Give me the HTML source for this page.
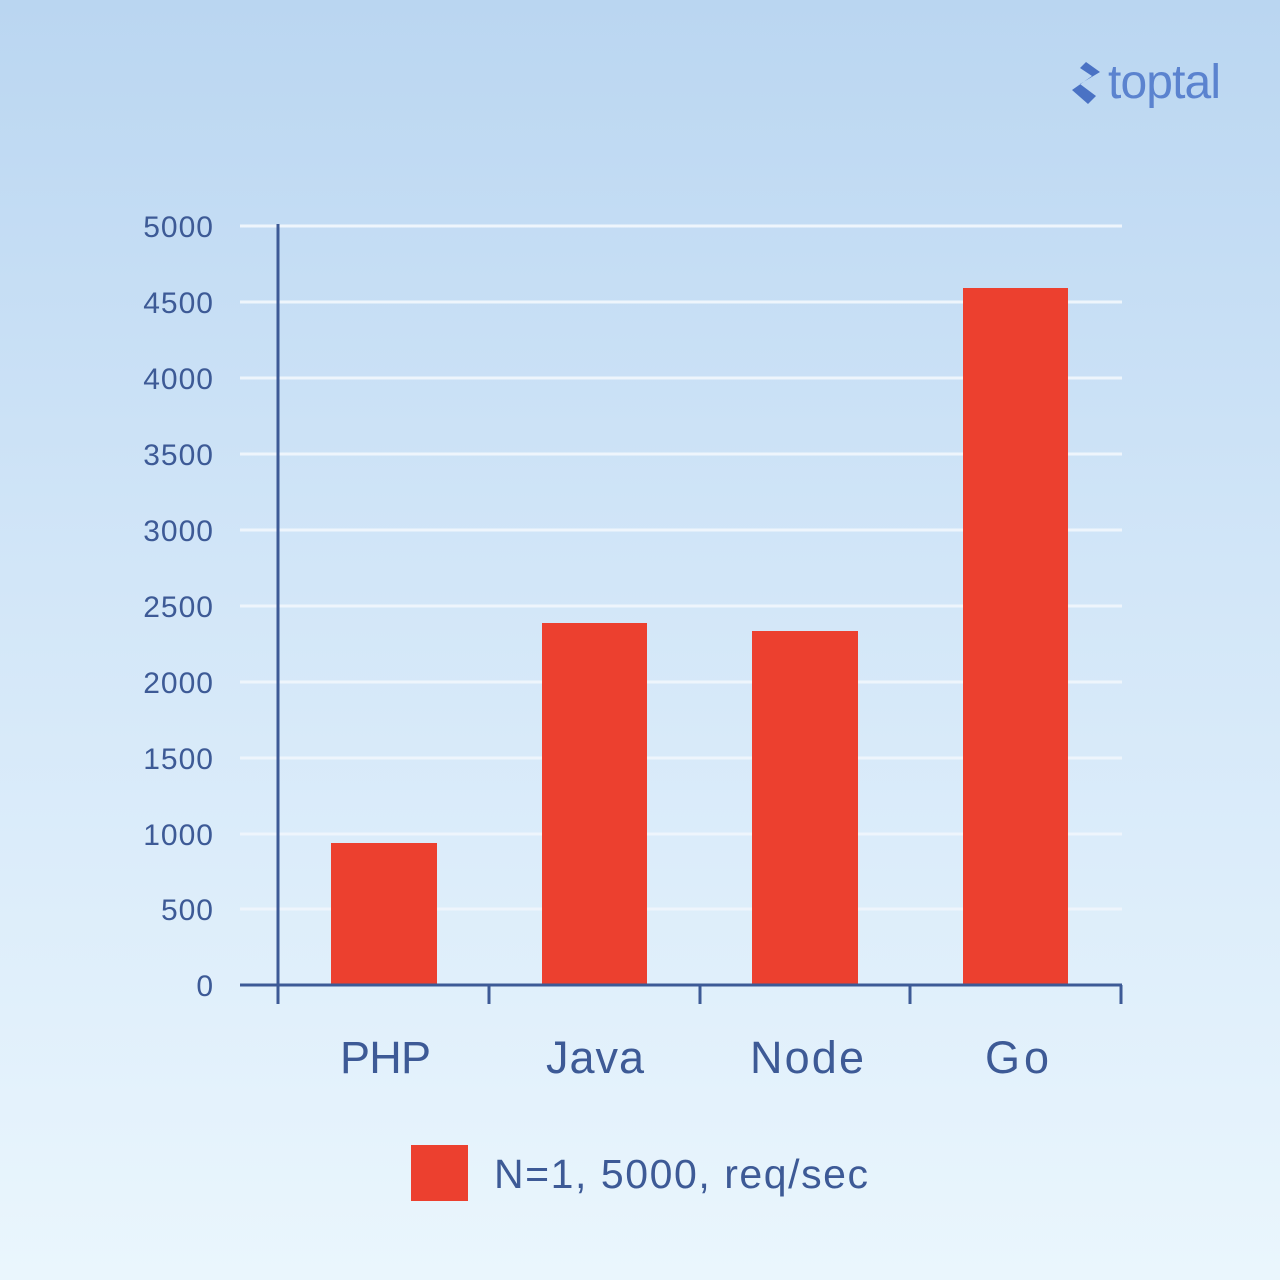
<!DOCTYPE html>
<html><head><meta charset="utf-8"><style>
html,body{margin:0;padding:0}
body{width:1280px;height:1280px;background:linear-gradient(180deg,#bad6f1 0%,#d2e6f8 45%,#eaf6fd 100%);font-family:"Liberation Sans",sans-serif;overflow:hidden}
</style></head><body>
<svg width="1280" height="1280" xmlns="http://www.w3.org/2000/svg" style="position:absolute;left:0;top:0">
<g stroke="#eef5fc" stroke-width="3">
<line x1="240" y1="226" x2="1122" y2="226"/><line x1="240" y1="302" x2="1122" y2="302"/>
<line x1="240" y1="378" x2="1122" y2="378"/><line x1="240" y1="454" x2="1122" y2="454"/>
<line x1="240" y1="530" x2="1122" y2="530"/><line x1="240" y1="606" x2="1122" y2="606"/>
<line x1="240" y1="682" x2="1122" y2="682"/><line x1="240" y1="758" x2="1122" y2="758"/>
<line x1="240" y1="834" x2="1122" y2="834"/><line x1="240" y1="909" x2="1122" y2="909"/>
</g>
<g fill="#ec402f">
<rect x="331" y="843" width="106" height="142"/>
<rect x="542" y="623" width="105" height="362"/>
<rect x="752" y="631" width="106" height="354"/>
<rect x="963" y="288" width="105" height="697"/>
</g>
<g stroke="#3d5a96" stroke-width="3" fill="none">
<line x1="278" y1="224" x2="278" y2="1004"/>
<line x1="240" y1="985" x2="1122" y2="985"/>
<line x1="489" y1="985" x2="489" y2="1004"/><line x1="700" y1="985" x2="700" y2="1004"/>
<line x1="910" y1="985" x2="910" y2="1004"/><line x1="1121" y1="985" x2="1121" y2="1004"/>
</g>
<g fill="#3d5a96" font-family="Liberation Sans, sans-serif" font-size="30" text-anchor="end" letter-spacing="1">
<text x="214" y="237">5000</text><text x="214" y="313">4500</text><text x="214" y="389">4000</text>
<text x="214" y="465">3500</text><text x="214" y="541">3000</text><text x="214" y="617">2500</text>
<text x="214" y="693">2000</text><text x="214" y="769">1500</text><text x="214" y="845">1000</text>
<text x="214" y="920">500</text><text x="214" y="996">0</text>
</g>
<g fill="#3d5a96" font-family="Liberation Sans, sans-serif" font-size="45">
<text x="340" y="1073" textLength="91">PHP</text><text x="546" y="1073" textLength="98">Java</text>
<text x="750" y="1073" textLength="114">Node</text><text x="985" y="1073" textLength="64">Go</text>
</g>
<rect x="411" y="1145" width="57" height="56" fill="#ec402f"/>
<text x="494" y="1188" fill="#3d5a96" font-family="Liberation Sans, sans-serif" font-size="41" textLength="374">N=1, 5000, req/sec</text>
<g fill="#4a72c4">
<path d="M1086 62 L1100 72 L1080 84 L1096 96 L1088 104 L1072 90 L1092 76 L1080 68 Z"/>
</g>
<text x="1108" y="98" fill="#5b83cf" font-family="Liberation Sans, sans-serif" font-size="48" textLength="113">toptal</text>
</svg>
</body></html>
